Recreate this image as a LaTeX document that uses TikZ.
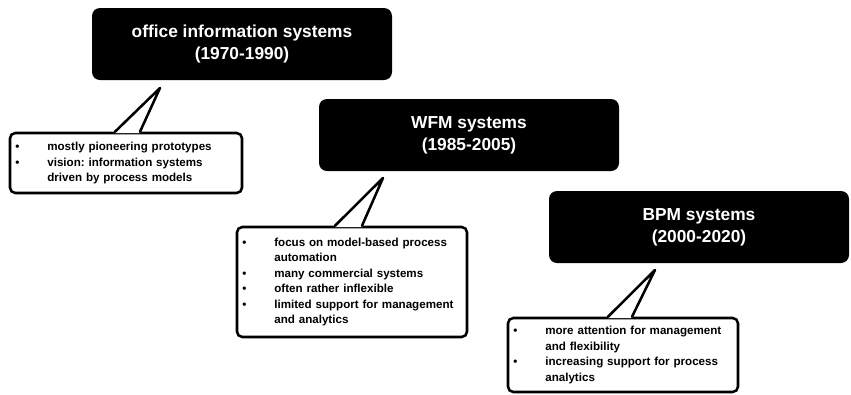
\documentclass[tikz,border=0pt]{standalone}
\usepackage{fontspec}
\setmainfont{Liberation Sans}
\frenchspacing
\usetikzlibrary{calc}
\newcommand{\noteitems}[1]{\begin{tabular}{@{}p{24pt}@{}l@{}}#1\end{tabular}}
\tikzset{
  periodbox/.style={fill=black, text=white, rounded corners=6pt, align=center,
    minimum width=225pt, minimum height=54pt, inner sep=0pt,
    font=\fontsize{13}{16.5}\selectfont\bfseries},
  notebox/.style={draw=black, fill=white, line width=1.9pt, rounded corners=4pt,
    inner xsep=4pt, inner ysep=0pt, text width=#1, align=left,
    font=\fontsize{8.7}{11.6}\selectfont\bfseries},
  notetail/.style={draw=black, line width=1.9pt, line join=round, line cap=round}
}
\begin{document}
\begin{tikzpicture}[x=0.75pt,y=0.75pt,yscale=-1,xscale=1]
\useasboundingbox (0,0) rectangle (851,394);
%period boxes
\node [periodbox] (ois) at (242,44) {office information systems\\(1970-1990)};
\node [periodbox] (wfm) at (469,135) {WFM systems\\(1985-2005)};
\node [periodbox] (bpm) at (699,227) {BPM systems\\(2000-2020)};
%notes
\node [notebox=166pt, minimum height=45pt] (oisnote) at (126,163) {\noteitems{%
\textbullet & mostly pioneering prototypes\\
\textbullet & vision: information systems\\
 & driven by process models}};
\node [notebox=164.5pt, minimum height=82.5pt] (wfmnote) at (352,282) {\noteitems{%
\textbullet & focus on model-based process\\
 & automation\\
\textbullet & many commercial systems\\
\textbullet & often rather inflexible\\
\textbullet & limited support for management\\
 & and analytics}};
\node [notebox=164.5pt, minimum height=55.5pt] (bpmnote) at (623,355) {\noteitems{%
\textbullet & more attention for management\\
 & and flexibility\\
\textbullet & increasing support for process\\
 & analytics}};
%tails
\coordinate (oistip) at (160,88);
\coordinate (wfmtip) at (383,178);
\coordinate (bpmtip) at (655,270);
\fill [white] ($(oisnote.north)+(-11,1.5)$) -- (oistip) -- ($(oisnote.north)+(14,1.5)$) -- cycle;
\draw [notetail] ($(oisnote.north)+(-11,0)$) -- (oistip) -- ($(oisnote.north)+(14,0)$);
\fill [white] ($(wfmnote.north)+(-17,1.5)$) -- (wfmtip) -- ($(wfmnote.north)+(10,1.5)$) -- cycle;
\draw [notetail] ($(wfmnote.north)+(-17,0)$) -- (wfmtip) -- ($(wfmnote.north)+(10,0)$);
\fill [white] ($(bpmnote.north)+(-15,1.5)$) -- (bpmtip) -- ($(bpmnote.north)+(9,1.5)$) -- cycle;
\draw [notetail] ($(bpmnote.north)+(-15,0)$) -- (bpmtip) -- ($(bpmnote.north)+(9,0)$);
\end{tikzpicture}
\end{document}
